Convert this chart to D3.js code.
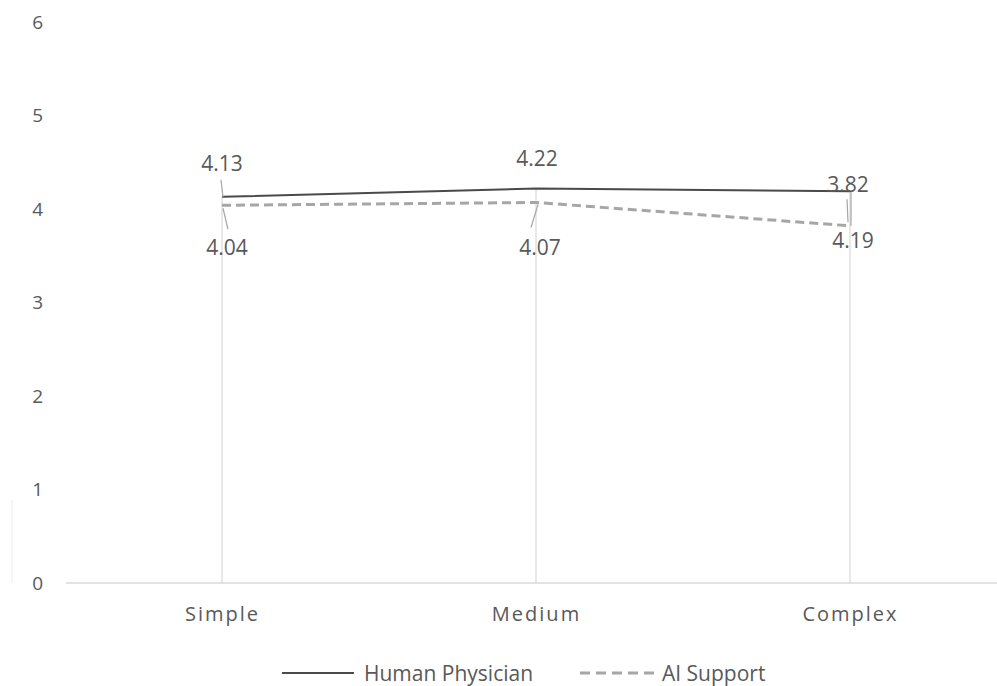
<!DOCTYPE html>
<html>
<head>
<meta charset="utf-8">
<script src="https://cdn.jsdelivr.net/npm/d3@7"></script>
<style>
  html, body { margin: 0; padding: 0; background: #fff; }
  svg text { font-family: "Open Sans", "Noto Sans", sans-serif; fill: #595959; }
</style>
</head>
<body>
<svg id="chart" width="997" height="686"></svg>
<script>
// Mean ratings by case complexity
const categories = ["Simple", "Medium", "Complex"];
const humanPhysician = [4.13, 4.22, 4.19];
const aiSupport = [4.04, 4.07, 3.82];
const yTicks = [0, 1, 2, 3, 4, 5, 6];
const seriesNames = ["Human Physician", "AI Support"];

const svg = d3.select("#chart");
const W = 997, H = 686;

const x = d3.scalePoint().domain(categories).range([222, 850]);
const y = d3.scaleLinear().domain([0, 6]).range([583, 22]);

// faint outer frame remnant on the left
svg.append("line")
  .attr("x1", 12).attr("x2", 12).attr("y1", 500).attr("y2", 583)
  .attr("stroke", "#ececec").attr("stroke-width", 1);

// drop lines from the highest point of each category down to the axis
categories.forEach((c, i) => {
  const top = Math.max(humanPhysician[i], aiSupport[i]);
  svg.append("line")
    .attr("x1", x(c)).attr("x2", x(c))
    .attr("y1", y(top)).attr("y2", y(0))
    .attr("stroke", "#d9d9d9").attr("stroke-width", 1.2);
});

// category axis
svg.append("line")
  .attr("x1", 66).attr("x2", W).attr("y1", y(0)).attr("y2", y(0))
  .attr("stroke", "#d9d9d9").attr("stroke-width", 1.5);

const xAxis = svg.append("g").attr("transform", `translate(0,${y(0)})`)
  .call(d3.axisBottom(x).tickSize(0).tickPadding(24));
xAxis.select(".domain").remove();
xAxis.selectAll("text")
  .style("font-size", "20px").style("letter-spacing", "2px")
  .attr("fill", "#595959");

// value axis labels
const yAxis = svg.append("g").attr("transform", "translate(43,0)")
  .call(d3.axisLeft(y).tickValues(yTicks).tickSize(0).tickPadding(0).tickFormat(d3.format("d")));
yAxis.select(".domain").remove();
yAxis.selectAll("text").style("font-size", "19px").attr("fill", "#595959");

// series lines
const line = d3.line().x((d, i) => x(categories[i])).y(d => y(d));

svg.append("path").datum(aiSupport)
  .attr("d", line).attr("fill", "none")
  .attr("stroke", "#a6a6a6").attr("stroke-width", 3)
  .attr("stroke-dasharray", "9,5");

svg.append("path").datum(humanPhysician)
  .attr("d", line).attr("fill", "none")
  .attr("stroke", "#4a4a4a").attr("stroke-width", 2);

// data labels: offset of label centre from its point, and leader line ends
const labelLayout = {
  human: [
    { dx: 0, dy: -34, leader: [[-1, -17], [1, 0]] },
    { dx: 1, dy: -30, leader: null },
    { dx: 3, dy: 49, leader: [[-3, 8], [-2, 31]] }
  ],
  ai: [
    { dx: 5, dy: 42, leader: [[1, 3], [6, 24]] },
    { dx: 4, dy: 45, leader: [[2, 2], [-5, 25]] },
    { dx: -2, dy: -42, leader: [[1, -34], [1, 0]] }
  ]
};

function drawLabels(values, layout) {
  values.forEach((v, i) => {
    const px = x(categories[i]), py = y(v), L = layout[i];
    if (L.leader) {
      svg.append("line")
        .attr("x1", px + L.leader[0][0]).attr("y1", py + L.leader[0][1])
        .attr("x2", px + L.leader[1][0]).attr("y2", py + L.leader[1][1])
        .attr("stroke", "#a6a6a6").attr("stroke-width", 1.2);
    }
    svg.append("text")
      .attr("x", px + L.dx).attr("y", py + L.dy)
      .attr("text-anchor", "middle").attr("dominant-baseline", "central")
      .style("font-size", "21px")
      .text(d3.format(".2f")(v));
  });
}
drawLabels(humanPhysician, labelLayout.human);
drawLabels(aiSupport, labelLayout.ai);

// legend
const legend = svg.append("g");
const legendItems = [
  { name: seriesNames[0], x0: 282, x1: 354, tx: 364, stroke: "#4a4a4a", w: 2, dash: null },
  { name: seriesNames[1], x0: 580, x1: 658, tx: 662, stroke: "#a6a6a6", w: 3, dash: "10,6" }
];
legendItems.forEach(it => {
  legend.append("line")
    .attr("x1", it.x0).attr("x2", it.x1).attr("y1", 673).attr("y2", 673)
    .attr("stroke", it.stroke).attr("stroke-width", it.w)
    .attr("stroke-dasharray", it.dash);
  legend.append("text")
    .attr("x", it.tx).attr("y", 673)
    .attr("dominant-baseline", "central")
    .style("font-size", "21px")
    .text(it.name);
});
</script>
</body>
</html>
